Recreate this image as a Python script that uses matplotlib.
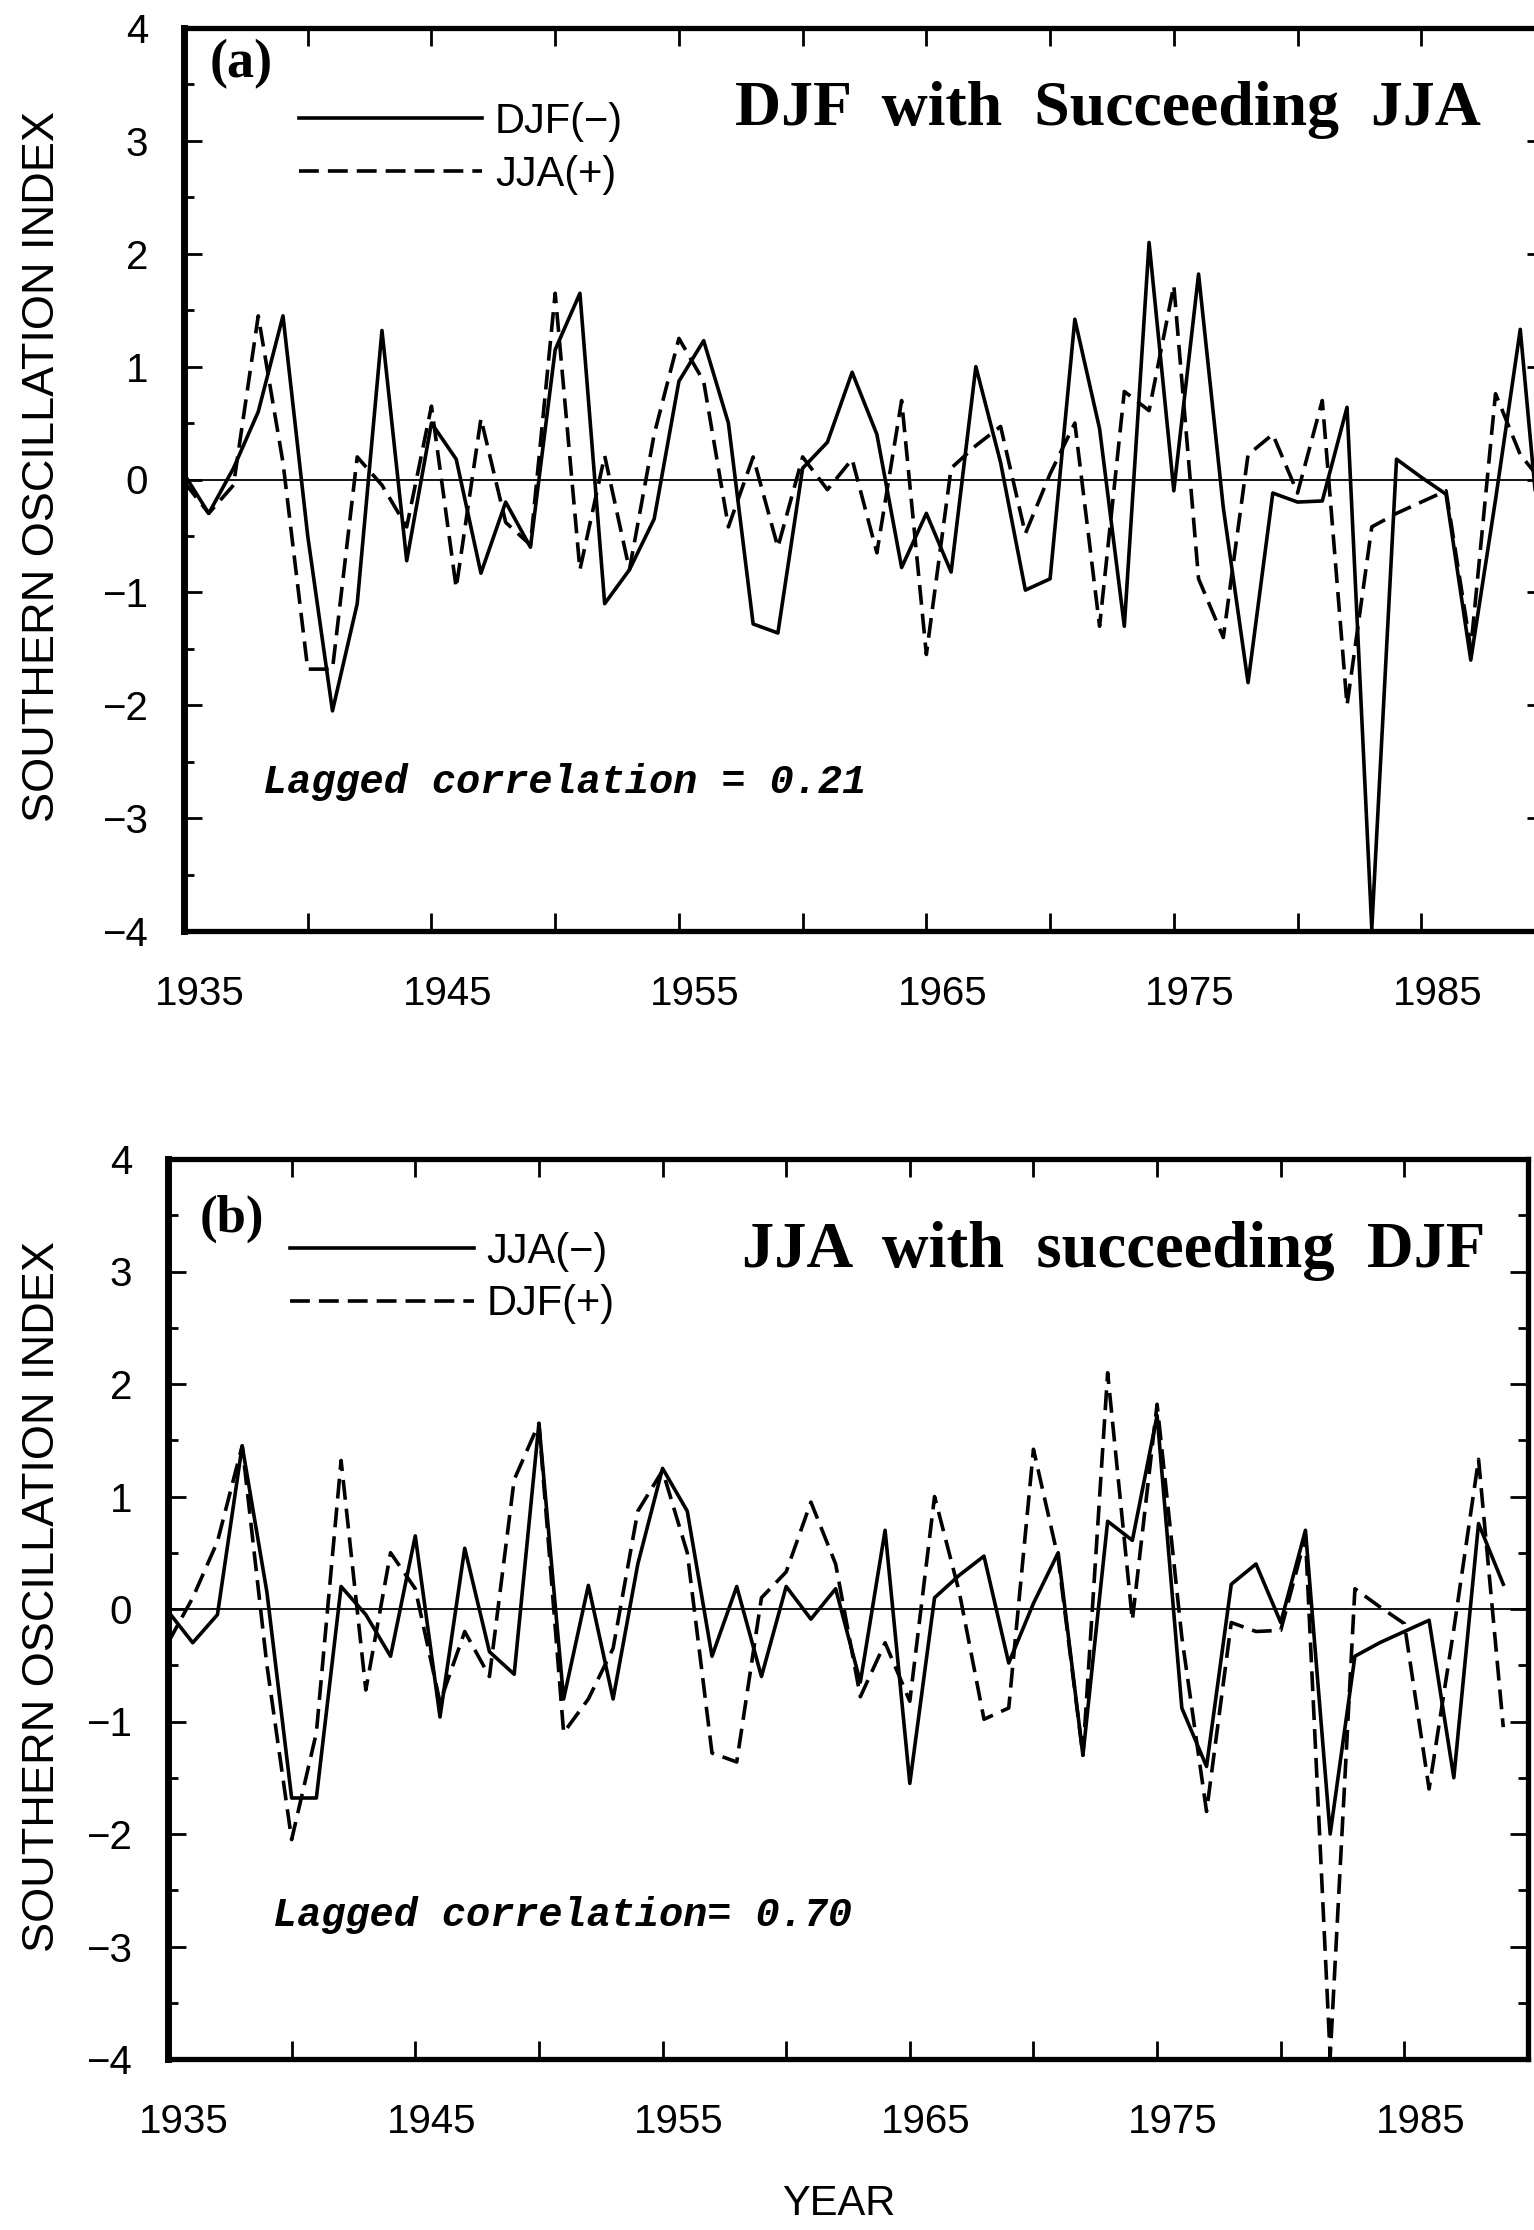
import matplotlib
matplotlib.use('Agg')
import matplotlib.pyplot as plt
from matplotlib.ticker import MultipleLocator
from matplotlib.transforms import ScaledTranslation

## seasonal SOI, one value per year 1935-1990
years = list(range(1935, 1991))
djf = [0.05, -0.3, 0.1, 0.6, 1.45, -0.5, -2.05, -1.1, 1.32, -0.72,
       0.5, 0.18, -0.83, -0.2, -0.6, 1.15, 1.65, -1.1, -0.8, -0.35,
       0.87, 1.23, 0.5, -1.28, -1.36, 0.1, 0.33, 0.95, 0.4, -0.78,
       -0.3, -0.82, 1.0, 0.15, -0.98, -0.88, 1.42, 0.45, -1.3, 2.1,
       -0.1, 1.82, -0.25, -1.8, -0.12, -0.2, -0.19, 0.64, -3.98, 0.18,
       0.02, -0.13, -1.6, -0.18, 1.33, -1.05]
jja = [-0.02, -0.3, -0.05, 1.45, 0.15, -1.68, -1.68, 0.2, -0.05, -0.42,
       0.65, -0.96, 0.54, -0.38, -0.58, 1.65, -0.8, 0.21, -0.8, 0.4,
       1.25, 0.87, -0.42, 0.2, -0.6, 0.2, -0.09, 0.18, -0.65, 0.7,
       -1.55, 0.1, 0.3, 0.47, -0.48, 0.05, 0.5, -1.3, 0.78, 0.61,
       1.72, -0.88, -1.4, 0.22, 0.4, -0.12, 0.7, -2.0, -0.42, -0.3,
       -0.2, -0.1, -1.5, 0.76, 0.22, -0.05]

xticks = list(range(1935, 1991, 5))
xlabels = ['1935', '', '1945', '', '1955', '', '1965', '', '1975', '', '1985', '']
yticks = [-4, -3, -2, -1, 0, 1, 2, 3, 4]

plt.rcParams['font.family'] = ['Liberation Sans', 'DejaVu Sans']

W, H = 1534, 2230
fig = plt.figure(figsize=(W / 100, H / 100), dpi=100)
ax1 = fig.add_axes([184 / W, 1 - 931 / H, 1361 / W, 903 / H])
ax2 = fig.add_axes([168 / W, 1 - 2059 / H, 1360 / W, 900 / H])

dash = (0, (5.5, 2.5))
LW = 2.6


def style(ax):
    ax.set_xlim(1935, 1990)
    ax.set_ylim(-4, 4)
    ax.set_xticks(xticks)
    ax.set_xticklabels(xlabels)
    ax.set_yticks(yticks)
    ax.yaxis.set_minor_locator(MultipleLocator(0.5))
    ax.tick_params(which='both', direction='in', top=True, right=True, width=2)
    ax.tick_params(which='major', length=13, labelsize=29)
    ax.tick_params(axis='x', pad=32)
    ax.tick_params(axis='y', pad=26)
    ax.tick_params(which='minor', length=7)
    # year labels sit a little to the right of their ticks in the original
    shift = ScaledTranslation(0.16, 0, fig.dpi_scale_trans)
    for lab in ax.get_xticklabels():
        lab.set_transform(lab.get_transform() + shift)
    for s in ax.spines.values():
        s.set_linewidth(3.8)
    ax.spines['left'].set_linewidth(5)
    ax.axhline(0, color='black', lw=1.3, zorder=1)


## (a) DJF with the JJA of the same year
style(ax1)
ax1.plot(years, djf, color='black', lw=LW, label='DJF(\u2212)')
ax1.plot(years, jja, color='black', lw=LW, linestyle=dash, label='JJA(+)')
ax1.legend(loc='upper left', bbox_to_anchor=(0.0845, 0.918), frameon=False,
           fontsize=30, handlelength=4.4, handletextpad=0.3, labelspacing=0.3,
           borderpad=0, borderaxespad=0)
ax1.text(0.019, 0.96, '(a)', transform=ax1.transAxes, family='Liberation Serif',
         weight='bold', fontsize=39, va='center', ha='left')
ax1.text(0.405, 0.909, 'DJF  with  Succeeding  JJA', transform=ax1.transAxes,
         family='Liberation Serif', weight='bold', fontsize=46, va='center', ha='left')
ax1.text(0.058, 0.165, 'Lagged correlation = 0.21', transform=ax1.transAxes,
         family='Liberation Mono', style='italic', weight='bold', fontsize=29,
         va='center', ha='left')

## (b) JJA with the DJF that follows it
style(ax2)
ax2.plot(years[:-1], jja[:-1], color='black', lw=LW, label='JJA(\u2212)')
ax2.plot(years[:-1], djf[1:], color='black', lw=LW, linestyle=dash, label='DJF(+)')
ax2.legend(loc='upper left', bbox_to_anchor=(0.09, 0.919), frameon=False,
           fontsize=30, handlelength=4.4, handletextpad=0.3, labelspacing=0.3,
           borderpad=0, borderaxespad=0)
ax2.text(0.023, 0.934, '(b)', transform=ax2.transAxes, family='Liberation Serif',
         weight='bold', fontsize=38, va='center', ha='left')
ax2.text(0.422, 0.898, 'JJA  with  succeeding  DJF', transform=ax2.transAxes,
         family='Liberation Serif', weight='bold', fontsize=46.5, va='center', ha='left')
ax2.text(0.077, 0.16, 'Lagged correlation= 0.70', transform=ax2.transAxes,
         family='Liberation Mono', style='italic', weight='bold', fontsize=29,
         va='center', ha='left')

fig.text(0.028, 1 - 467 / H, 'SOUTHERN OSCILLATION INDEX', rotation=90,
         ha='center', va='center', fontsize=32.5)
fig.text(0.028, 1 - 1596 / H, 'SOUTHERN OSCILLATION INDEX', rotation=90,
         ha='center', va='center', fontsize=32.5)
fig.text(0.547, 1 - 2204 / H, 'YEAR', ha='center', va='center', fontsize=30)

fig.savefig('out.png', dpi=100)
